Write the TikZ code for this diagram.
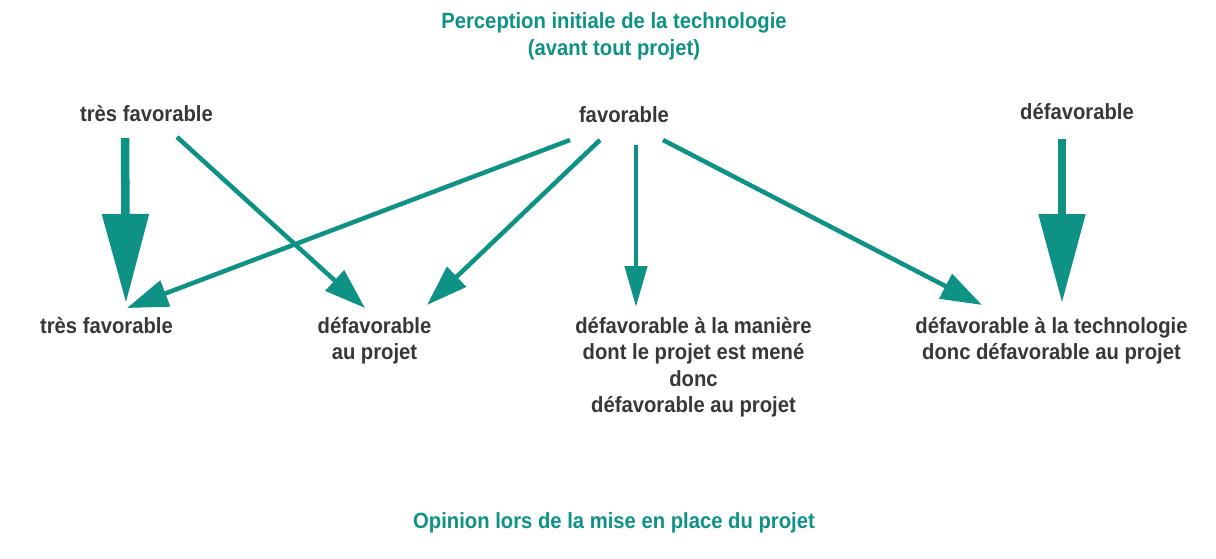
\documentclass[tikz,border=0pt]{standalone}
\usepackage{fontspec}
\setmainfont{Liberation Sans}[FakeStretch=0.92]
\usetikzlibrary{arrows.meta,calc}
\definecolor{teal1}{RGB}{14,146,134}
\definecolor{txt}{RGB}{55,55,55}
\tikzset{
  lbl/.style={anchor=base, inner sep=0pt, align=center, text=txt,
    font=\fontsize{22pt}{26.5pt}\selectfont\bfseries},
  ttl/.style={lbl, text=teal1, font=\fontsize{22pt}{27pt}\selectfont\bfseries},
  bigarrow/.style={draw=teal1, line width=8.5pt,
    -{Triangle[length=89pt 0, width=45pt 0, fill=teal1]}},
  thinarrow/.style={draw=teal1, line width=4.5pt,
    -{Triangle[length=41pt 0, width=27pt 0, fill=teal1]}},
  vertarrow/.style={draw=teal1, line width=4.5pt,
    -{Triangle[length=41pt 0, width=22pt 0, fill=teal1]}}
}
\begin{document}
\begin{tikzpicture}[x=1pt,y=-1pt]
\useasboundingbox (0,0) rectangle (1216,558);
% multi-line nodes: base anchor = baseline of the last line
\node[ttl] (titleTop) at (614,55) {Perception initiale de la technologie\\(avant tout projet)};
\node[ttl] (titleBot) at (614,528) {Opinion lors de la mise en place du projet};
\node[lbl] (tfA) at (146.5,121) {très favorable};
\node[lbl] (fav) at (624,122) {favorable};
\node[lbl] (dfv) at (1077,119) {défavorable};
\node[lbl] (tfB) at (106.5,333) {très favorable};
\node[lbl] (dpr) at (374.5,359.5) {défavorable\\au projet};
\node[lbl] (dman) at (693.5,412.5) {défavorable à la manière\\dont le projet est mené\\donc\\défavorable au projet};
\node[lbl] (dtech) at (1051.5,359.5) {défavorable à la technologie\\donc défavorable au projet};
\draw[bigarrow] ($(tfA.base)+(-21.5,17)$) -- ($(tfB.base)+(19.5,-30)$);
\draw[thinarrow] ($(tfA.base)+(30.5,16)$) -- ($(dpr.base)+(-9.5,-51.5)$);
\draw[thinarrow] ($(fav.base)+(-54,18)$) -- ($(tfB.base)+(20.5,-25)$);
\draw[thinarrow] ($(fav.base)+(-24,18)$) -- ($(dpr.base)+(52.5,-54.5)$);
\draw[vertarrow] ($(fav.base)+(12,23)$) -- ($(dman.base)+(-57.5,-105.5)$);
\draw[thinarrow] ($(fav.base)+(39,18)$) -- ($(dtech.base)+(-69.5,-54.5)$);
\draw[bigarrow] ($(dfv.base)+(-15,20)$) -- ($(dtech.base)+(10.5,-56.5)$);
\end{tikzpicture}
\end{document}
